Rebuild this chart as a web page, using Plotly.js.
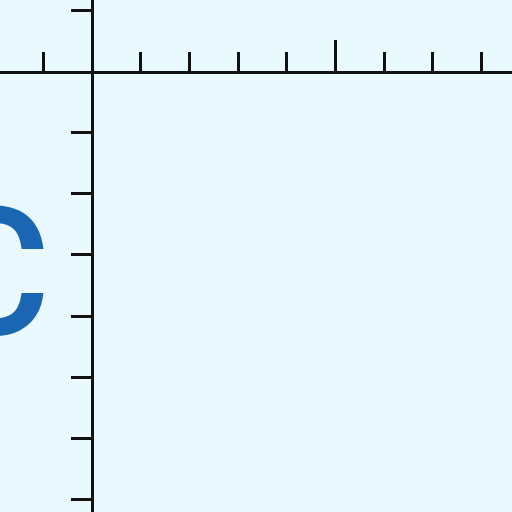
<!DOCTYPE html>
<html>
<head>
<meta charset="utf-8">
<script src="https://cdn.plot.ly/plotly-3.0.1.min.js"></script>
<style>html,body{margin:0;padding:0;background:#e9f9fd;}#chart{width:512px;height:512px;}</style>
</head>
<body>
<div id="chart"></div>
<script>
// axis tick values (units along each axis)
const xMajorTicks = [5];
const xMinorTicks = [-1, 1, 2, 3, 4, 6, 7, 8];
const yTicks = [1, -1, -2, -3, -4, -5, -6, -7];
const xRange = [-1.889, 8.624];
const yRange = [-7.213, 1.180];
const letter = "C";

const layout = {
  width: 512, height: 512,
  margin: {l: 0, r: 0, t: 0, b: 0, pad: 0},
  paper_bgcolor: '#e9f9fd', plot_bgcolor: '#e9f9fd', showlegend: false,
  xaxis: {range: xRange, anchor: 'free', position: 440/512, side: 'top', showgrid: false, zeroline: false, showline: true, linecolor: '#111', linewidth: 3, showticklabels: false, ticks: 'outside', tickmode: 'array', tickvals: xMajorTicks, ticklen: 31, tickwidth: 3, tickcolor: '#111',
    minor: {tickmode: 'array', tickvals: xMinorTicks, ticks: 'outside', ticklen: 19, tickwidth: 3, tickcolor: '#111', showgrid: false}},
  yaxis: {range: yRange, anchor: 'free', position: 92/512, side: 'left', showgrid: false, zeroline: false, showline: true, linecolor: '#111', linewidth: 3, showticklabels: false, ticks: 'outside', tickmode: 'array', tickvals: yTicks, ticklen: 20, tickwidth: 3, tickcolor: '#111'},
  annotations: [{
    text: letter, xref: 'paper', yref: 'paper',
    x: 51.6/512, y: 1 - 273.4/512, xanchor: 'right', yanchor: 'middle', showarrow: false,
    font: {family: 'Roboto', weight: 500, size: 178, color: '#1a66b3'}
  }]
};
Plotly.newPlot('chart', [{x: [], y: [], type: 'scatter'}], layout, {staticPlot: true});
</script>
</body>
</html>
